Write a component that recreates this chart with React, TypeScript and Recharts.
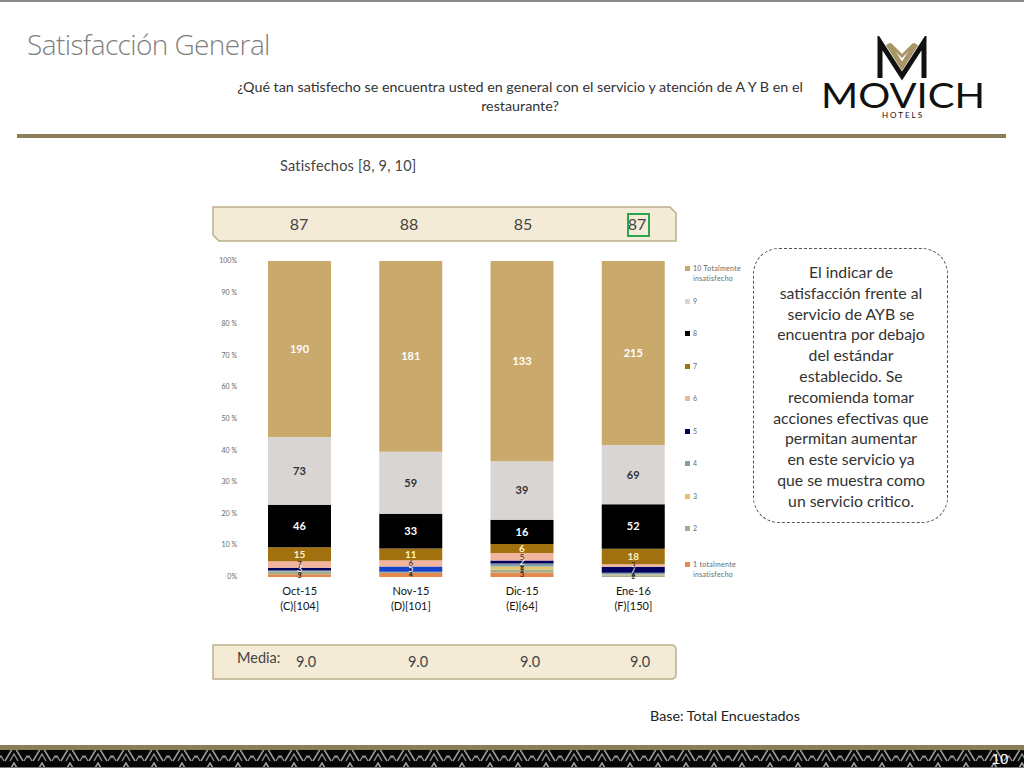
import React from "react";
import { BarChart, Bar, XAxis, YAxis, LabelList, Cell } from "recharts";

const categories = ["Oct-15", "Nov-15", "Dic-15", "Ene-16"];
const bases = ["(C)[104]", "(D)[101]", "(E)[64]", "(F)[150]"];
const s1 = [3, 4, 3, 0];
const s2 = [3, 0, 2, 2];
const s3 = [0, 0, 2, 1];
const s4 = [1, 1, 2, 2];
const s5 = [3, 5, 2, 7];
const s6 = [7, 6, 5, 3];
const s7 = [15, 11, 6, 18];
const s8 = [46, 33, 16, 52];
const s9 = [73, 59, 39, 69];
const s10 = [190, 181, 133, 215];
const satisfied = ["87", "88", "85", "87"];
const media = ["9.0", "9.0", "9.0", "9.0"];
const yTicks = [0, 0.1, 0.2, 0.3, 0.4, 0.5, 0.6, 0.7, 0.8, 0.9, 1];
const yTickLabels = ["0%", "10 %", "20 %", "30 %", "40 %", "50 %", "60 %", "70 %", "80 %", "90 %", "100%"];

const seriesKeys = ["s1", "s2", "s3", "s4", "s5", "s6", "s7", "s8", "s9", "s10"];
const seriesValues = [s1, s2, s3, s4, s5, s6, s7, s8, s9, s10];
const seriesNames = ["1 totalmente insatisfecho", "2", "3", "4", "5", "6", "7", "8", "9", "10 Totalmente insatisfecho"];
const seriesColors = ["#E58A4E", "#A3AE8A", "#E3C46A", "#7E9FA6", "#00005E", "#F1B49C", "#A1700F", "#000000", "#D9D5D3", "#C9A96C"];
const labelColors = ["#222", "#222", "#222", "#222", "#fff", "#222", "#FFF4C8", "#fff", "#333", "#fff"];
const labelSizes = [7, 7, 7, 7, 9, 8, 10, 11, 11, 11];
const nov5Color = "#1442C8";

const data = categories.map((c, i) => {
  const row: any = { name: c, base: bases[i] };
  seriesKeys.forEach((k, j) => {
    row[k] = seriesValues[j][i];
  });
  return row;
});

const XTick = (props: any) => {
  const { x, y, payload, index } = props;
  return (
    <g>
      <text x={x} y={y + 10} textAnchor="middle" fontSize={11} fill="#111" fontFamily="Lato, sans-serif">
        {payload.value}
      </text>
      <text x={x} y={y + 25} textAnchor="middle" fontSize={11} fill="#111" fontFamily="Lato, sans-serif">
        {bases[index]}
      </text>
    </g>
  );
};

const YTick = (props: any) => {
  const { x, y, payload } = props;
  const idx = yTicks.indexOf(payload.value);
  return (
    <text x={x} y={y + 2} textAnchor="end" fontSize={7} fill="#666" fontFamily="Lato, sans-serif">
      {yTickLabels[idx >= 0 ? idx : 0]}
    </text>
  );
};

const legendY = [564, 528, 496, 463, 431, 398, 366, 333, 301, 268];

function Logo() {
  return (
    <svg style={{ position: "absolute", left: 810, top: 36 }} width={190} height={90}>
      <g stroke="#111" strokeWidth={5} fill="none" strokeLinejoin="miter">
        <polyline points="70,42 70,6 92,40 114,6 114,42" />
      </g>
      <polyline points="78,8 92,30 106,8" stroke="#A89465" strokeWidth={5} fill="none" />
      <polyline points="80,8 92,20 104,8" stroke="#A89465" strokeWidth={3} fill="none" />
      <text x={93} y={72} textAnchor="middle" fontSize={34} fontFamily="Lato, sans-serif" fill="#111" textLength={164} lengthAdjust="spacingAndGlyphs">
        MOVICH
      </text>
      <text x={93} y={82} textAnchor="middle" fontSize={8} fontFamily="Lato, sans-serif" fill="#111" letterSpacing={2}>
        HOTELS
      </text>
    </svg>
  );
}

export default function App() {
  const box = (top: number, chamfer: boolean) => (
    <svg style={{ position: "absolute", left: 210, top: top - 4 }} width={470} height={42}>
      <path
        d={
          chamfer
            ? `M3,4 L460,4 L466,10 L466,38 L9,38 L3,32 Z`
            : `M3,4 L461,4 Q466,4 466,9 L466,33 Q466,38 461,38 L3,38 Z`
        }
        fill="#F3EBD5"
        stroke="#BDAE8C"
        strokeWidth={1.5}
      />
    </svg>
  );
  return (
    <div style={{ position: "absolute", left: 0, top: 0, width: 1024, height: 768, background: "#fff", overflow: "hidden", fontFamily: "Lato, sans-serif" }}>
      <div style={{ position: "absolute", left: 0, top: 0, width: 1024, height: 2, background: "#8a8a8a" }} />
      <div style={{ position: "absolute", left: 27, top: 25, fontSize: 28, fontWeight: 300, color: "#7F7F7F", fontFamily: "'Open Sans', sans-serif", letterSpacing: -0.6 }}>
        Satisfacción General
      </div>
      <div style={{ position: "absolute", left: 200, top: 77, width: 640, textAlign: "center", fontSize: 14.3, lineHeight: "19px", color: "#333" }}>
        ¿Qué tan satisfecho se encuentra usted en general con el servicio y atención de A Y B en el
        <br />
        restaurante?
      </div>
      <Logo />
      <div style={{ position: "absolute", left: 17, top: 134, width: 989, height: 4, background: "#8B7D57" }} />
      <div style={{ position: "absolute", left: 280, top: 157, fontSize: 14.5, color: "#444", letterSpacing: 0.2 }}>Satisfechos [8, 9, 10]</div>

      {box(207, true)}
      {satisfied.map((v, i) => (
        <div key={i} style={{ position: "absolute", left: [299, 409, 523, 637][i] - 20, width: 40, top: 214, textAlign: "center", fontSize: 16, color: "#444" }}>
          {v}
        </div>
      ))}
      <div style={{ position: "absolute", left: 627, top: 213, width: 19, height: 20, border: "2px solid #2DA44E" }} />

      <div style={{ position: "absolute", left: 210, top: 250 }}>
        <BarChart width={480} height={400} data={data} stackOffset="expand" barSize={63} margin={{ top: 11, right: 1, bottom: 28, left: 4 }}>
          <XAxis dataKey="name" axisLine={false} tickLine={false} tick={<XTick />} height={45} interval={0} />
          <YAxis ticks={yTicks} domain={[0, 1]} axisLine={false} tickLine={false} tickSize={0} tickMargin={7} width={30} tick={<YTick />} interval={0} />
          {seriesKeys.map((k, j) => (
            <Bar key={k} dataKey={k} stackId="a" fill={seriesColors[j]} isAnimationActive={false} name={seriesNames[j]}>
              {k === "s5" && data.map((d, i) => <Cell key={i} fill={i === 1 ? nov5Color : seriesColors[j]} />)}
              <LabelList dataKey={k} position="center" fill={labelColors[j]} fontSize={labelSizes[j]} fontWeight={j >= 6 ? 700 : 400} fontFamily="Lato, sans-serif" />
            </Bar>
          ))}
        </BarChart>
      </div>

      {seriesNames.map((n, j) => {
        const parts = n.indexOf(" ") > 0 ? [n.split(" ")[0] + " " + n.split(" ")[1], n.split(" ").slice(2).join(" ")] : [n];
        return (
          <div key={n} style={{ position: "absolute", left: 685, top: legendY[j] - 5, fontSize: 7, color: "#666", lineHeight: "10px", letterSpacing: 0.3 }}>
            <span style={{ display: "inline-block", width: 5, height: 5, background: seriesColors[j], marginRight: 3 }} />
            {parts[0]}
            {parts[1] && <div style={{ paddingLeft: 8 }}>{parts[1]}</div>}
          </div>
        );
      })}

      <div style={{ position: "absolute", left: 753, top: 248, width: 195, height: 275, border: "1.2px dashed #555", borderRadius: 26, boxSizing: "border-box" }} />
      <div style={{ position: "absolute", left: 753, top: 262, width: 196, textAlign: "center", fontSize: 15.8, lineHeight: "20.8px", color: "#333" }}>
        El indicar de<br />satisfacción frente al<br />servicio de AYB se<br />encuentra por debajo<br />del estándar<br />establecido. Se<br />recomienda tomar<br />acciones efectivas que<br />permitan aumentar<br />en este servicio ya<br />que se muestra como<br />un servicio critico.
      </div>

      {box(645, false)}
      <div style={{ position: "absolute", left: 237, top: 649, fontSize: 14.5, color: "#444" }}>Media:</div>
      {media.map((v, i) => (
        <div key={i} style={{ position: "absolute", left: [306, 418, 530, 640][i] - 20, width: 40, top: 653, textAlign: "center", fontSize: 14.5, color: "#444" }}>
          {v}
        </div>
      ))}

      <div style={{ position: "absolute", left: 650, top: 707, fontSize: 14.3, color: "#222" }}>Base: Total Encuestados</div>

      <svg style={{ position: "absolute", left: 0, top: 745 }} width={1024} height={23}>
        <defs>
          <pattern id="tri" x={0} y={0} width={28} height={17} patternUnits="userSpaceOnUse">
            <rect width={28} height={17} fill="#050505" />
            <polyline points="5,16 14,1 23,16" fill="none" stroke="#9a9a9a" strokeWidth={1.6} />
            <polyline points="10,16 14,9 18,16" fill="none" stroke="#9a9a9a" strokeWidth={1.2} />
            <polyline points="-2,16 1,11 4,16" fill="none" stroke="#9a9a9a" strokeWidth={1.2} />
            <polyline points="24,16 27,11 30,16" fill="none" stroke="#9a9a9a" strokeWidth={1.2} />
          </pattern>
        </defs>
        <rect x={0} y={0} width={1024} height={5} fill="#8B7D57" />
        <rect x={0} y={5} width={1024} height={17} fill="url(#tri)" />
        <rect x={0} y={22} width={1024} height={1} fill="#777" />
        <text x={1000} y={19} textAnchor="middle" fontSize={15} fill="#fff" fontFamily="'Liberation Sans Narrow', sans-serif">10</text>
      </svg>
    </div>
  );
}
